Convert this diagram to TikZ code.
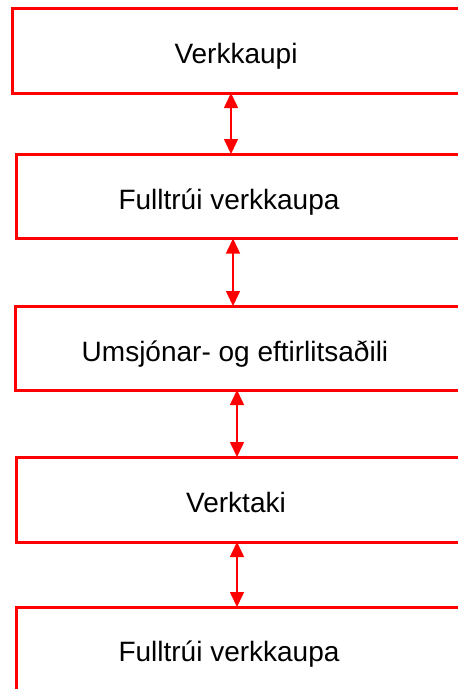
\documentclass[tikz,border=0pt]{standalone}
\usepackage{fontspec}
\setmainfont{Liberation Sans}
\usetikzlibrary{arrows.meta}
\begin{document}
\begin{tikzpicture}[x=1pt,y=-1pt,
  box/.style={draw=red, line width=3pt, inner sep=0pt, outer sep=0pt, anchor=west, minimum height=#1},
  lbl/.style={font=\fontsize{28}{32}\selectfont, inner sep=0pt, anchor=base},
  link/.style={red, line width=1.6pt, {Triangle[length=15pt,width=14pt]}-{Triangle[length=15pt,width=14pt]}}]
\useasboundingbox (0,0) rectangle (458,689);
\clip (0,0) rectangle (458,689);
\node[box=84.5pt, minimum width=480pt] (b1) at (12,50.75) {};
\node[box=84.5pt, minimum width=480pt] (b2) at (16,196.25) {};
\node[box=84pt, minimum width=480pt] (b3) at (15.5,348) {};
\node[box=85pt, minimum width=480pt] (b4) at (16,499.5) {};
\node[box=84pt, minimum width=480pt] (b5) at (16,649) {};
\node[lbl] (t1) at (236,63) {Verkkaupi};
\node[lbl] (t2) at (229,209) {Fulltrúi verkkaupa};
\node[lbl] (t3) at (235,361) {Umsjónar- og eftirlitsaðili};
\node[lbl] (t4) at (236,512) {Verktaki};
\node[lbl] (t5) at (229,661.5) {Fulltrúi verkkaupa};
\coordinate (x1) at (231,0);
\coordinate (x2) at (233,0);
\coordinate (x3) at (237,0);
\coordinate (x4) at (237,0);
\draw[link] (b1.south -| x1) -- (b2.north -| x1);
\draw[link] (b2.south -| x2) -- (b3.north -| x2);
\draw[link] (b3.south -| x3) -- (b4.north -| x3);
\draw[link] (b4.south -| x4) -- (b5.north -| x4);
\end{tikzpicture}
\end{document}
